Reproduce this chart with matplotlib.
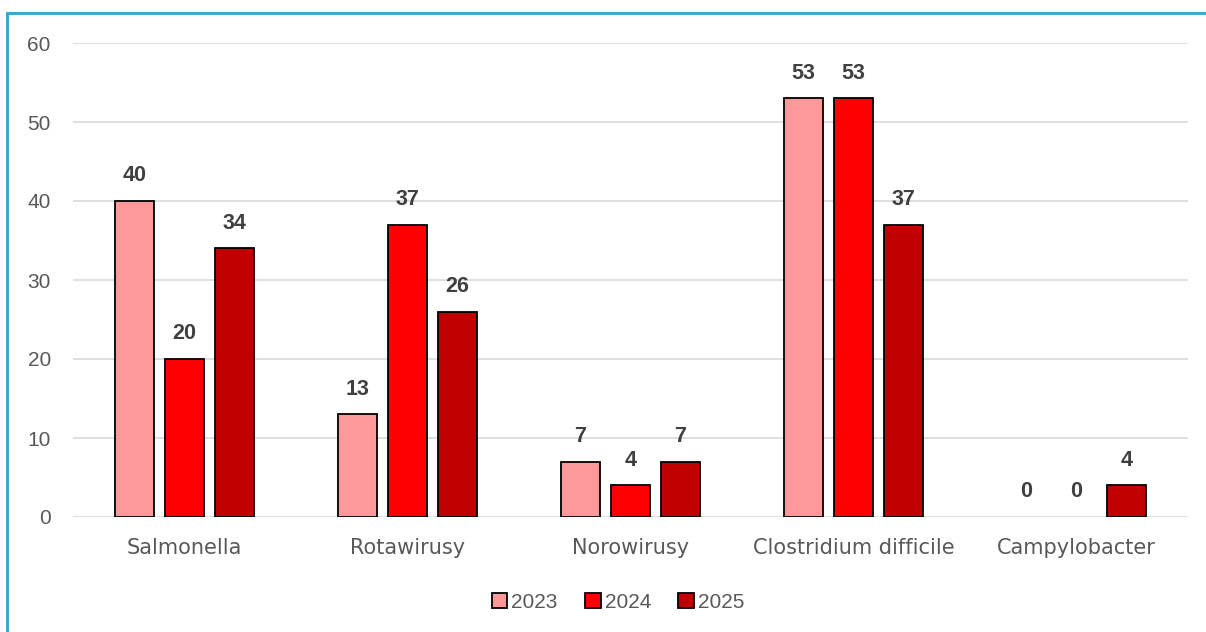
import numpy as np
import matplotlib
matplotlib.use('Agg')
import matplotlib.pyplot as plt
from matplotlib.patches import Rectangle

categories = ['Salmonella', 'Rotawirusy', 'Norowirusy', 'Clostridium difficile', 'Campylobacter']
years = ['2023', '2024', '2025']
v2023 = [40, 13, 7, 53, 0]
v2024 = [20, 37, 4, 53, 0]
v2025 = [34, 26, 7, 37, 4]
colors = ['#FF9999', '#FF0000', '#C00000']

plt.rcParams['font.family'] = ['Liberation Sans', 'DejaVu Sans']

fig = plt.figure(figsize=(12.06, 6.32), dpi=100)
ax = fig.add_axes([73/1206, 1-517/632, 1115/1206, 474/632])

# outer blue frame
fig.patches.append(Rectangle((7/1206, -0.1), 1.2, 1-13/632+0.1, transform=fig.transFigure,
                             fill=False, edgecolor='#2EA3D8', linewidth=2))

x = np.arange(len(categories))
step = 0.224
width = 0.172
for i, (vals, yr) in enumerate(zip([v2023, v2024, v2025], years)):
    lw = [1.3 if v > 0 else 0 for v in vals]
    bars = ax.bar(x + (i - 1) * step, vals, width, color=colors[i], edgecolor='black',
                  linewidth=lw, label=yr, zorder=3)
    for b, v in zip(bars, vals):
        ax.annotate(str(v), (b.get_x() + b.get_width() / 2, v), xytext=(0, 10.5),
                    textcoords='offset points', ha='center', va='bottom',
                    fontsize=15.5, fontweight='bold', color='#404040')

ax.set_xlim(-0.5, 4.5)
ax.set_ylim(0, 60)
ax.set_yticks(range(0, 61, 10))
ax.grid(axis='y', color='#D9D9D9', linewidth=1.2, zorder=0)
for s in ax.spines.values():
    s.set_visible(False)
ax.tick_params(length=0, labelsize=15, colors='#595959')
ax.tick_params(axis='y', pad=16)
ax.tick_params(axis='x', pad=15)
ax.set_xticks(x)
ax.set_xticklabels(categories, family='DejaVu Sans')

leg = ax.legend(loc='center', bbox_to_anchor=(618/1206, 1-602/632), bbox_transform=fig.transFigure,
                ncol=3, frameon=False, fontsize=15, handlelength=0.75, handleheight=0.75,
                handletextpad=0.2, columnspacing=1.3, labelcolor='#595959')
for h in leg.legend_handles:
    h.set_linewidth(1.3)

fig.savefig('out.png', dpi=100)
